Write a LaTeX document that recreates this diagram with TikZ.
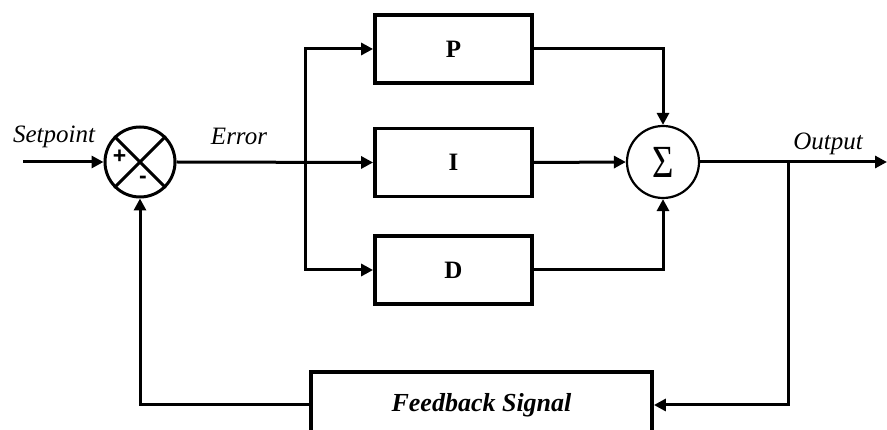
\documentclass[tikz,border=0pt]{standalone}
\usepackage{fontspec}
\usepackage{graphicx}
\setmainfont{Liberation Serif}
\newfontfamily\signfont{Liberation Sans}
\usetikzlibrary{arrows.meta}
\begin{document}
\begin{tikzpicture}[x=1pt,y=-1pt,
  wire/.style={line width=3pt},
  flow/.style={wire,-{Triangle[length=12pt,width=12pt]}},
  block/.style={draw,line width=3.8pt,minimum width=157pt,minimum height=68pt,
    inner sep=0pt,font=\fontsize{25}{25}\selectfont\bfseries},
  junction/.style={draw,circle,line width=3pt,minimum size=70pt,inner sep=0pt},
  sumnode/.style={draw,circle,line width=2.2pt,minimum size=72pt,inner sep=0pt},
  sign/.style={inner sep=0pt,font=\fontsize{23}{23}\selectfont\signfont\bfseries},
  lbl/.style={font=\fontsize{25}{25}\selectfont\itshape,anchor=base,inner sep=0pt}]
\useasboundingbox (0,0) rectangle (887,430);
\clip (0,0) rectangle (887,430);

% comparator
\node[junction] (cmp) at (140,162) {};
\draw[wire] (cmp.north west) -- (cmp.south east);
\draw[wire] (cmp.south west) -- (cmp.north east);
\node[sign] (plus) at (119.5,157) {+};
\node[sign] (minus) at (143,180) {-};

% P, I, D blocks
\node[block] (P) at (453.5,49) {P};
\node[block] (I) at (453.5,162.5) {I};
\node[block] (D) at (453.5,270) {D};

% summing junction
\node[sumnode] (sum) at (663,162)
  {\scalebox{0.8}[1]{\fontsize{46}{46}\selectfont Σ}};

% feedback block
\node[draw,line width=3.8pt,minimum width=341pt,minimum height=66pt,inner sep=0pt,
  font=\fontsize{26}{26}\selectfont\bfseries\itshape] (fb) at (481.5,405) {Feedback Signal};

% labels
\node[lbl] (lsp) at (54,143) {Setpoint};
\node[lbl] (lerr) at (239,145) {Error};
\node[lbl] (lout) at (828,150) {Output};

% connectors
\coordinate (sp) at (23,162);
\coordinate (br) at (305,162);
\coordinate (tap) at (788,162);
\coordinate (out) at (887,162);

\draw[flow] (sp) -- (cmp.west);
\draw[flow] (cmp.east) -- (I.west);
\draw[flow] (br) |- (P.west);
\draw[flow] (br) |- (D.west);
\draw[flow] (P.east) -| (sum.north);
\draw[flow] (I.east) -- (sum.west);
\draw[flow] (D.east) -| (sum.south);
\draw[flow] (sum.east) -- (out);
\draw[flow] (tap) |- (fb.east);
\draw[flow] (fb.west) -| (cmp.south);
\end{tikzpicture}
\end{document}
